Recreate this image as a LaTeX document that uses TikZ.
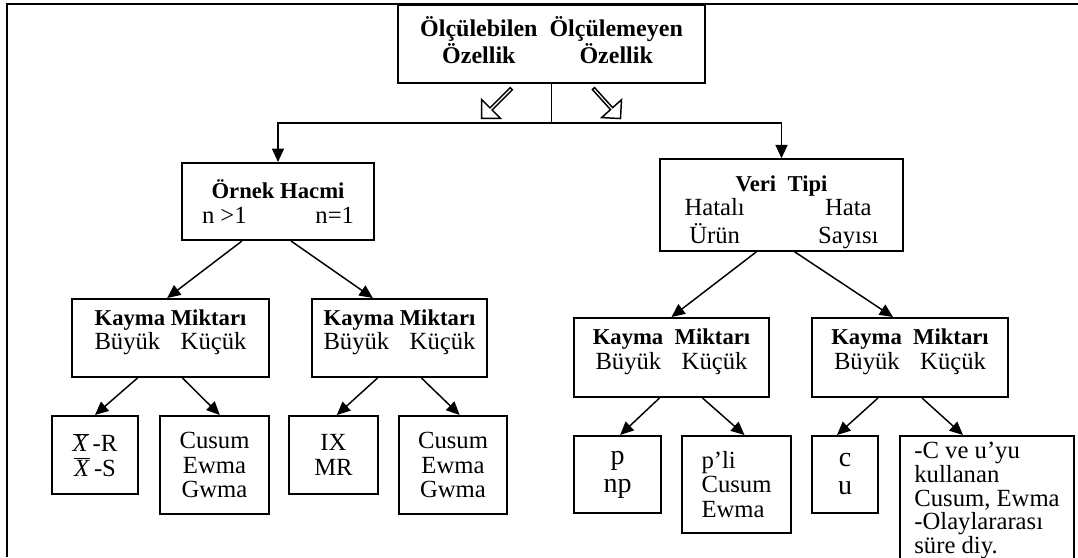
\documentclass[tikz,border=0pt]{standalone}
\usepackage{fontspec}
\setmainfont{Liberation Serif}
\usetikzlibrary{arrows.meta,shapes.arrows}

\tikzset{
  box/.style={draw, line width=1.5pt, inner sep=0pt, align=center,
    font=\fontsize{18.5}{18.5}\selectfont},
  big/.style={font=\fontsize{21}{21}\selectfont},
  hollow/.style={single arrow, draw, line width=1.1pt, inner sep=0pt,
    minimum width=20pt, single arrow head extend=4.5pt},
}
\newcommand{\twocol}[2]{\makebox[114pt]{#1\hfill #2}}
\newcommand{\hdr}[1]{{\fontsize{17}{18.5}\selectfont\bfseries #1}}
\newcommand{\xbar}{$\overline{\mbox{\textit{X}}}$}

\begin{document}
\begin{tikzpicture}[x=0.75pt, y=-0.75pt]
  \useasboundingbox (0,0) rectangle (1078,557);
  \draw[line width=2pt] (7,557) -- (7,4) -- (1078,4);
  \draw
    (551.5,44) node[box, minimum width=230.25pt, minimum height=58.5pt,
      font=\fontsize{18}{20}\selectfont\bfseries] (top)
      {\begin{tabular}{@{}c@{\hspace{9pt}}c@{}}Ölçülebilen & Ölçülemeyen\\ Özellik & Özellik\end{tabular}}
    (278,201.5) node[box, minimum width=144pt, minimum height=57.75pt] (ornek)
      {\hdr{Örnek Hacmi}\\\twocol{n >1}{n=1}}
    (781.5,205) node[box, minimum width=182.25pt, minimum height=64.5pt] (veri)
      {\begin{tabular}{@{}c@{\hspace{55pt}}c@{}}\multicolumn{2}{c}{\rule{0pt}{24pt}\hdr{Veri\ \ Tipi}}\\ Hatalı & Hata\\ Ürün & Sayısı\end{tabular}}
    (170.5,338) node[box, minimum width=147.75pt, minimum height=58.5pt] (k1)
      {\hdr{Kayma Miktarı}\\\twocol{Büyük}{Küçük}\\[-6pt]\mbox{}}
    (399.5,338) node[box, minimum width=131.25pt, minimum height=58.5pt] (k2)
      {\hdr{Kayma Miktarı}\\\twocol{Büyük}{Küçük}\\[-6pt]\mbox{}}
    (671.5,357.5) node[box, minimum width=146.25pt, minimum height=59.25pt] (k3)
      {\hdr{Kayma\ \ Miktarı}\\\twocol{Büyük}{Küçük}\\[-6pt]\mbox{}}
    (910,357.5) node[box, minimum width=147pt, minimum height=59.25pt] (k4)
      {\hdr{Kayma\ \ Miktarı}\\\twocol{Büyük}{Küçük}\\[-6pt]\mbox{}}
    (95,455) node[box, minimum width=64.5pt, minimum height=58.5pt] (l1)
      {\xbar\,-R\\\xbar\,-S}
    (214.5,465) node[box, minimum width=81.75pt, minimum height=73.5pt] (l2)
      {Cusum\\Ewma\\Gwma}
    (333.5,455) node[box, minimum width=66.75pt, minimum height=58.5pt] (l3)
      {IX\\MR}
    (453,465) node[box, minimum width=81pt, minimum height=73.5pt] (l4)
      {Cusum\\Ewma\\Gwma}
    (617.5,474.5) node[box, big, minimum width=65.25pt, minimum height=57.75pt] (r1)
      {p\\np}
    (736.5,484.5) node[box, align=left, minimum width=81.75pt, minimum height=72.75pt] (r2)
      {p’li\\Cusum\\Ewma}
    (845,474.5) node[box, big, minimum width=49.5pt, minimum height=57.75pt] (r3)
      {c\\u}
    (987,500.5) node[box, align=left, minimum width=130.5pt, minimum height=96.75pt,
      font=\fontsize{18.5}{17.8}\selectfont] (r4)
      {-C ve u’yu\\kullanan\\Cusum, Ewma\\-Olaylararası\\süre diy.};
  % hollow arrows under the top box
  \node[hollow, minimum height=31.5pt, rotate=-135] (hl) at (497,103) {};
  \node[hollow, minimum height=30.3pt, rotate=-48] (hr) at (606.5,103) {};
  \coordinate (split) at (551.5,123);
  \draw[line width=0.9pt] (top.south) -- (split);
  \begin{scope}[-{Triangle[length=10pt,width=9pt]}, line width=1.1pt]
    \draw (split) -| (ornek.north);
    \draw (split) -| (veri.north);
    \draw ([xshift=-27pt]ornek.south) to ([xshift=-2.5pt]k1.north);
    \draw ([xshift=9.75pt]ornek.south) to ([xshift=-20pt]k2.north);
    \draw ([xshift=-18.75pt]veri.south) to (k3.north);
    \draw ([xshift=9.75pt]veri.south) to ([xshift=-12.75pt]k4.north);
    \draw ([xshift=-24.75pt]k1.south) to (l1.north);
    \draw ([xshift=9pt]k1.south) to ([xshift=4pt]l2.north);
    \draw ([xshift=-16.5pt]k2.south) to ([xshift=2.5pt]l3.north);
    \draw ([xshift=16.5pt]k2.south) to ([xshift=5pt]l4.north);
    \draw ([xshift=-9pt]k3.south) to ([xshift=2pt]r1.north);
    \draw ([xshift=23.25pt]k3.south) to ([xshift=6pt]r2.north);
    \draw ([xshift=-24pt]k4.south) to ([xshift=-6pt]r3.north);
    \draw ([xshift=9pt]k4.south) to ([xshift=-18pt]r4.north);
  \end{scope}
\end{tikzpicture}
\end{document}
